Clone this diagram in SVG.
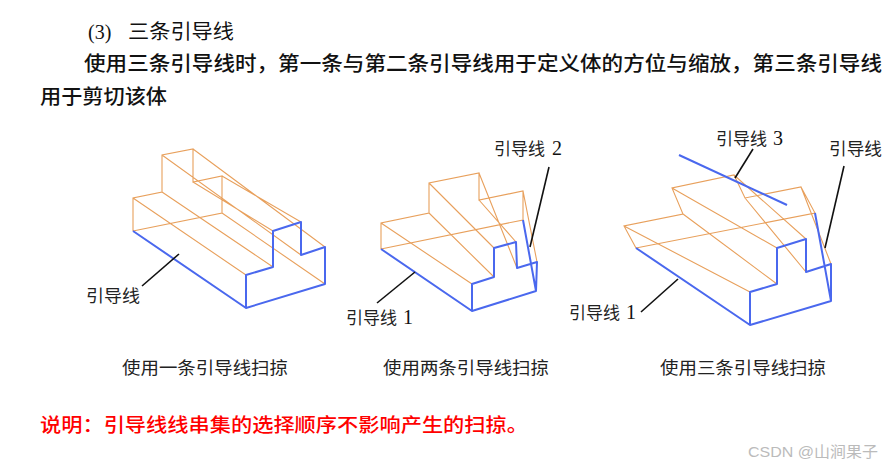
<svg xmlns="http://www.w3.org/2000/svg" width="882" height="470" viewBox="0 0 882 470">
<style>
text{font-family:"Liberation Serif","Noto Sans CJK SC",serif;fill:#111}
.h{font-size:20px}
.b{font-size:20px;font-weight:500}
.l{font-size:17px;fill:#222}
.d{font-size:20px}
.c{font-size:17px;fill:#222}
.r{font-size:19px;fill:#f00;font-weight:500}
.w{font-size:15px;fill:#bbb;font-family:"Liberation Sans","Noto Sans CJK SC",sans-serif}
.o{fill:none;stroke:#e8a05c;stroke-width:1.1}
.n{fill:none;stroke:#4a68ee;stroke-width:2;stroke-linejoin:round}
.k{fill:none;stroke:#111;stroke-width:1.6}
</style>
<rect width="882" height="470" fill="#fff"/>
<g id="heading">
<text class="h" x="88" y="39" font-size="20">(3)</text>
<text class="h" x="128" y="39" textLength="106" lengthAdjust="spacingAndGlyphs">三条引导线</text>
<text class="b" x="84" y="71" textLength="798" lengthAdjust="spacingAndGlyphs">使用三条引导线时，第一条与第二条引导线用于定义体的方位与缩放，第三条引导线</text>
<text class="b" x="40" y="104" textLength="127" lengthAdjust="spacingAndGlyphs">用于剪切该体</text>
</g>
<g id="body-1">
<path class="o" d="M133 231V198L162 192V155L193 149V182L222 176V213L133 231M193 149L325 247M162 155L301 255M193 182L273 231M222 176L301 222M222 213L325 284M162 192L273 267M133 198L246 275"/>
<path class="n" d="M133 231L246 308L325 284V247L301 255V222L273 231V267L246 275V308"/>
</g>
<g id="body-2">
<path class="o" d="M381 249V223L429 213V183L479 173V200L523 191L537 262M523 191V220L381 249M381 223L472 284M429 183L494 248M429 213L494 277M479 173L517 268M479 200L516 242"/>
<path class="n" d="M381 249L472 311L536 291L537 262L517 268L516 242L494 248V277L472 284V311M523 220L536 291"/>
</g>
<g id="body-3">
<path class="o" d="M636 248L624 226L683 214L672 188L734 175L745 198L801 187L831 264M801 187L815 213L636 248M624 226L750 292M683 214L777 284M672 188L777 248M734 175L806 239M745 198L806 272"/>
<path class="n" d="M636 248L750 325L831 301V264L806 272V239L777 248V284L750 292V325M815 213L831 301"/>
<path class="n" d="M679 155L787 205"/>
</g>
<g id="connectors">
<path class="k" d="M179 254L142 286"/>
<path class="k" d="M415 272L377 303"/>
<path class="k" d="M549 167L530 247"/>
<path class="k" d="M678 279L641 312"/>
<path class="k" d="M753 149L735 178"/>
<path class="k" d="M844 166L825 248"/>
</g>
<g id="labels">
<text class="l" x="86" y="302" textLength="54" lengthAdjust="spacingAndGlyphs">引导线</text>
<text class="l" x="346" y="324">引导线</text><text class="d" x="403" y="324">1</text>
<text class="l" x="494" y="155">引导线</text><text class="d" x="552" y="155">2</text>
<text class="l" x="569" y="319">引导线</text><text class="d" x="626" y="319">1</text>
<text class="l" x="716" y="145">引导线</text><text class="d" x="773" y="145">3</text>
<text class="l" x="829" y="155" textLength="53" lengthAdjust="spacingAndGlyphs">引导线</text>
</g>
<g id="captions">
<text class="c" x="122" y="374" textLength="166" lengthAdjust="spacingAndGlyphs">使用一条引导线扫掠</text>
<text class="c" x="383" y="374" textLength="166" lengthAdjust="spacingAndGlyphs">使用两条引导线扫掠</text>
<text class="c" x="660" y="374" textLength="166" lengthAdjust="spacingAndGlyphs">使用三条引导线扫掠</text>
</g>
<g id="note">
<text class="r" x="40" y="432" textLength="488" lengthAdjust="spacingAndGlyphs">说明：引导线线串集的选择顺序不影响产生的扫掠。</text>
</g>
<g id="watermark">
<text class="w" x="748" y="457" textLength="130" lengthAdjust="spacingAndGlyphs">CSDN @山涧果子</text>
</g>
</svg>
